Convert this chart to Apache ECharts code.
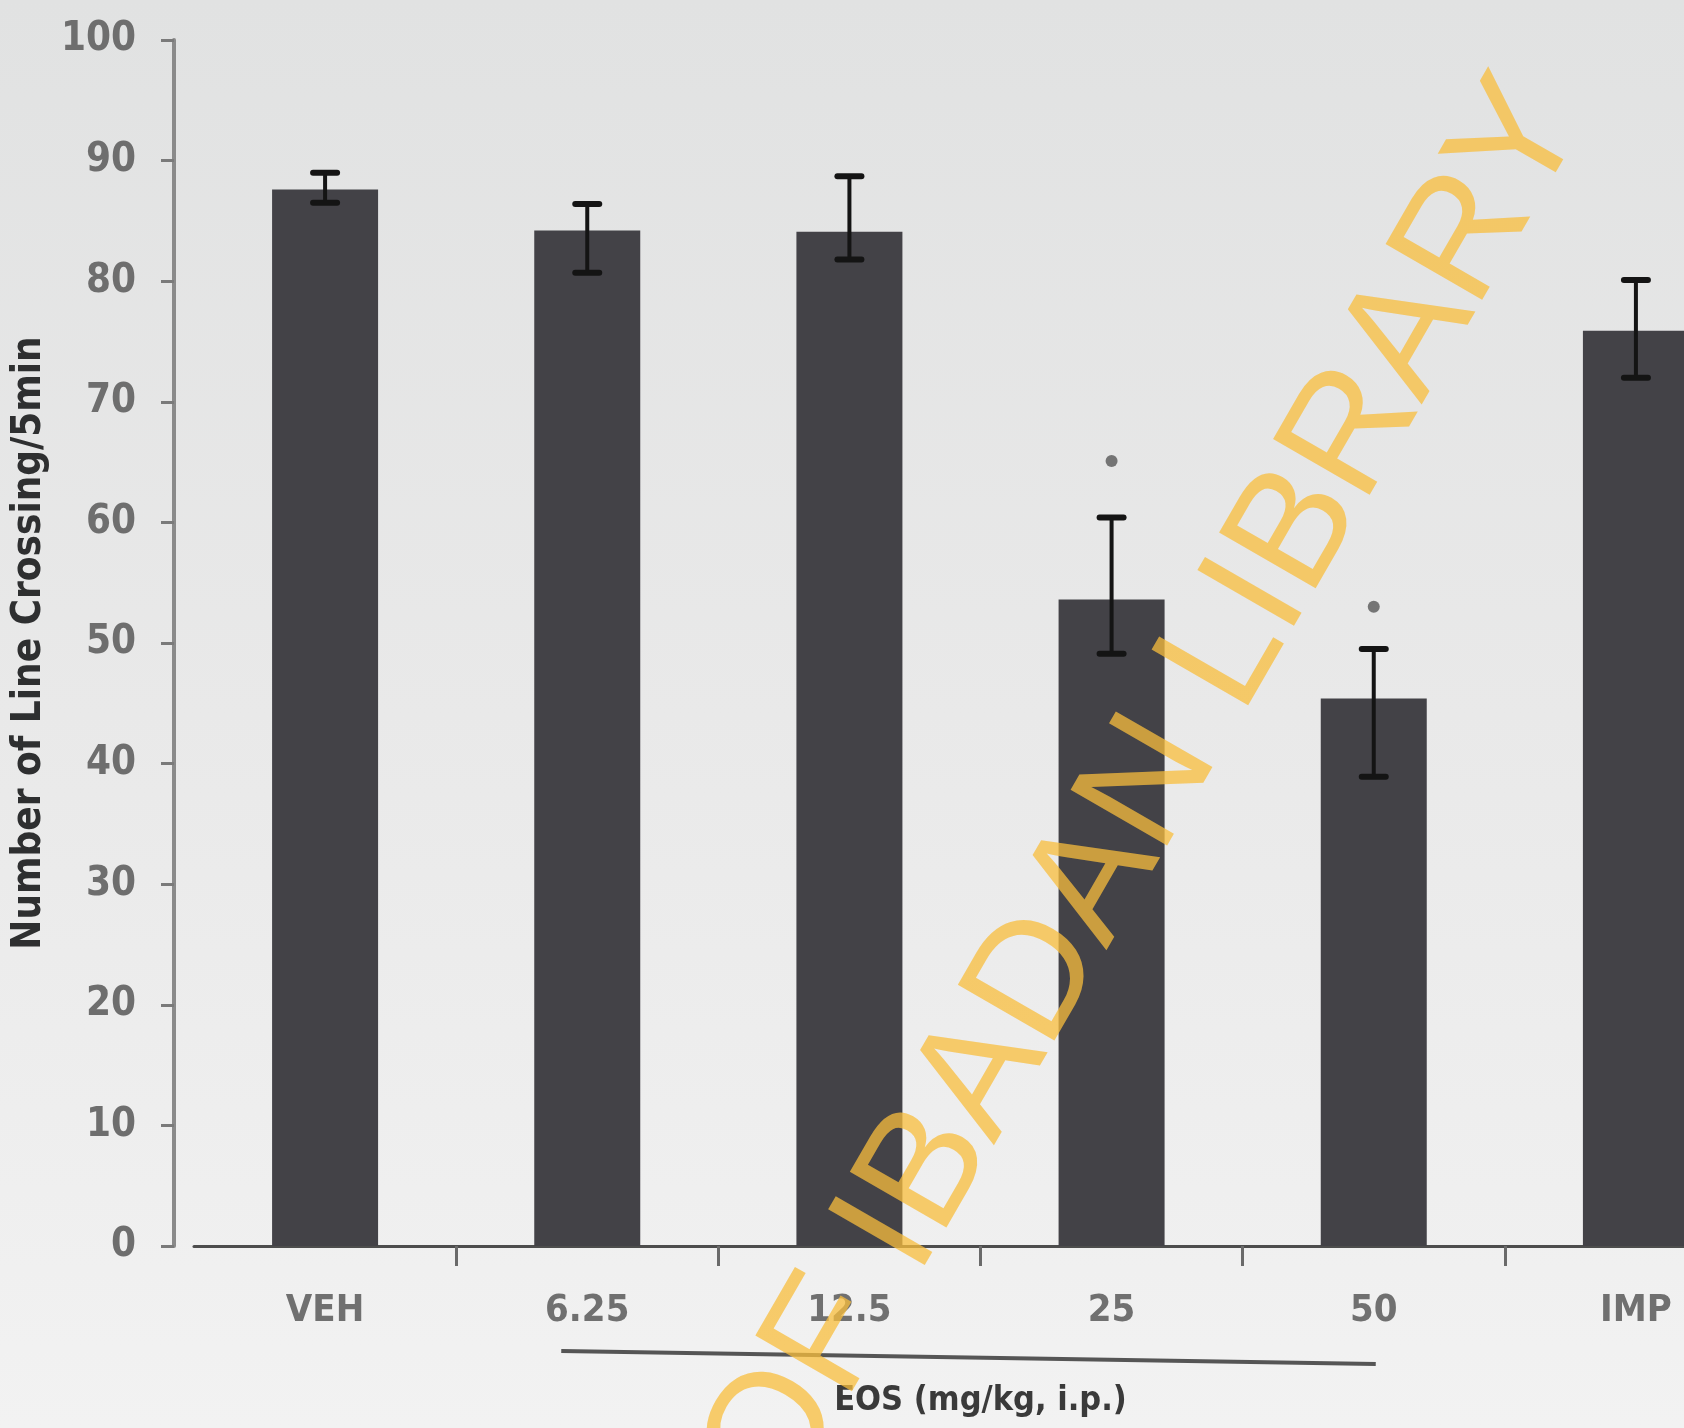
<!DOCTYPE html>
<html><head><meta charset="utf-8">
<script src="https://cdn.jsdelivr.net/npm/echarts@6/dist/echarts.min.js"></script>
<style>html,body{margin:0;padding:0;background:#eaeaea}#c{width:1684px;height:1428px}</style>
</head><body><div id="c"></div>
<script>
// ---- data ----
const categories = ['VEH', '6.25', '12.5', '25', '50', 'IMP'];
const means      = [87.6, 84.2, 84.1, 53.6, 45.4, 75.9];
const errUp      = [1.4, 2.2, 4.6, 6.8, 4.1, 4.2];
const errDown    = [1.1, 3.5, 2.3, 4.5, 6.5, 3.9];
const sigMarks   = [null, null, null, 65.1, 53.0, null];
const yMin = 0, yMax = 100, yInterval = 10;
const yName = 'Number of Line Crossing/5min';
const xName = 'EOS (mg/kg, i.p.)';
const groupStart = '6.25', groupEnd = '50';
const watermark = 'OF IBADAN LIBRARY';

const FONT = "'DejaVu Sans Condensed', 'Liberation Sans Narrow', 'DejaVu Sans', sans-serif";
const chart = echarts.init(document.getElementById('c'), null, {renderer: 'canvas'});

const errData = categories.map((c, i) => [i, means[i], errUp[i], errDown[i]]);
const sigData = categories.map((c, i) => sigMarks[i] == null ? null : [i, sigMarks[i]]).filter(d => d);

chart.setOption({
  animation: false,
  backgroundColor: {
    type: 'linear', x: 0, y: 0, x2: 0, y2: 1,
    colorStops: [{offset: 0, color: '#e1e2e2'}, {offset: 0.5, color: '#e9e9e9'}, {offset: 1, color: '#f2f2f2'}]
  },
  grid: {left: 194, width: 1573, top: 40, bottom: 182, containLabel: false, outerBoundsMode: 'none'},
  xAxis: {
    type: 'category',
    data: categories,
    boundaryGap: true,
    axisLine: {show: true, lineStyle: {color: '#4d4d4d', width: 3}},
    axisTick: {show: true, inside: false, length: 20, lineStyle: {color: '#6a6a6a', width: 3},
               interval: function (i) { return i !== 0; }},
    axisLabel: {color: '#707070', fontFamily: FONT, fontWeight: 'bold', fontSize: 38, margin: 46},
    name: xName,
    nameLocation: 'middle',
    nameGap: 138,
    nameTextStyle: {color: '#3a3a3a', fontFamily: FONT, fontWeight: 'bold', fontSize: 34}
  },
  yAxis: {
    type: 'value',
    min: yMin, max: yMax, interval: yInterval,
    offset: 20,
    splitLine: {show: false},
    axisLine: {show: true, lineStyle: {color: '#8a8a8a', width: 4}},
    axisTick: {show: true, inside: false, length: 13, lineStyle: {color: '#7a7a7a', width: 3}},
    axisLabel: {color: '#6e6e6e', fontFamily: FONT, fontWeight: 'bold', fontSize: 40, margin: 38},
    name: yName,
    nameLocation: 'middle',
    nameGap: 124,
    nameRotate: 90,
    nameTextStyle: {color: '#2e2f30', fontFamily: FONT, fontWeight: 'bold', fontSize: 40}
  },
  series: [
    {
      type: 'bar',
      data: means,
      barWidth: 106,
      itemStyle: {color: '#434247'},
      z: 2
    },
    {
      type: 'custom',
      data: errData,
      encode: {x: 0, y: 1},
      z: 5,
      renderItem: function (params, api) {
        const i = api.value(0);
        const m = api.value(1);
        const top = api.coord([i, m + api.value(2)]);
        const bot = api.coord([i, m - api.value(3)]);
        const c = 12;
        const st = {stroke: '#141414', lineWidth: 4};
        const cap = {stroke: '#141414', lineWidth: 6, lineCap: 'round'};
        return {type: 'group', children: [
          {type: 'line', shape: {x1: top[0], y1: top[1], x2: bot[0], y2: bot[1]}, style: st},
          {type: 'line', shape: {x1: top[0] - c, y1: top[1], x2: top[0] + c, y2: top[1]}, style: cap},
          {type: 'line', shape: {x1: bot[0] - c, y1: bot[1], x2: bot[0] + c, y2: bot[1]}, style: cap}
        ]};
      }
    },
    {
      type: 'scatter',
      data: sigData,
      symbol: 'circle',
      symbolSize: 12,
      itemStyle: {color: '#585858'},
      z: 6
    }
  ]
});

// bracket under the EOS dose groups and the watermark
const xs = chart.convertToPixel({xAxisIndex: 0}, groupStart);
const xe = chart.convertToPixel({xAxisIndex: 0}, groupEnd);
const y0 = chart.convertToPixel({yAxisIndex: 0}, 0);
chart.setOption({
  graphic: [
    {type: 'line', z: 10, shape: {x1: xs - 26, y1: y0 + 105, x2: xe + 2, y2: y0 + 118},
     style: {stroke: '#555555', lineWidth: 4}},
    {type: 'text', z: 100, x: 793, y: 1518, rotation: 60 * Math.PI / 180,
     style: {text: watermark, x: 0, y: -57, font: 'normal 162px "Liberation Sans", Arial, sans-serif',
             fill: 'rgba(248,190,60,0.75)', align: 'left', verticalAlign: 'middle',
             textAlign: 'left', textVerticalAlign: 'middle'}}
  ]
});
</script>
</body></html>
